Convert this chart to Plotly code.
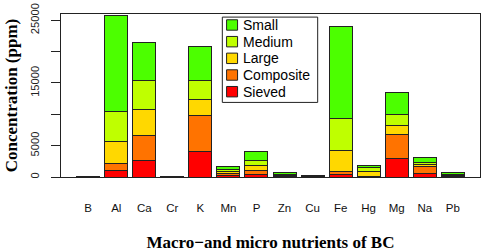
import plotly.graph_objects as go

categories = ["B", "Al", "Ca", "Cr", "K", "Mn", "P", "Zn", "Cu", "Fe", "Hg", "Mg", "Na", "Pb"]
sieved    = [30, 1050, 2700, 10, 4000, 300, 450, 100, 40, 450, 20, 2950, 600, 100]
composite = [30, 1050, 3900, 10, 5800, 300, 550, 80, 40, 500, 20, 3870, 1000, 100]
large     = [30, 3500, 4100, 10, 2500, 300, 800, 80, 40, 3350, 900, 1350, 350, 100]
medium    = [30, 4900, 4700, 10, 3150, 350, 900, 90, 40, 5100, 600, 1850, 400, 100]
small     = [30, 15200, 6000, 10, 5350, 400, 1350, 350, 40, 14550, 350, 3520, 750, 300]
y_ticks = [0, 5000, 10000, 15000, 20000, 25000]
# R drops the overlapping labels 10000 and 20000
y_tick_labels = ["0", "5000", "", "15000", "", "25000"]

series_names = ["Sieved", "Composite", "Large", "Medium", "Small"]
series_values = [sieved, composite, large, medium, small]
series_colors = ["#FF0000", "#FF7300", "#FFD800", "#BFFF00", "#4CFF00"]

fig = go.Figure()
for name, vals, col in zip(series_names, series_values, series_colors):
    fig.add_trace(go.Bar(
        x=categories, y=vals, name=name, width=0.82,
        marker=dict(color=col, line=dict(color="#222222", width=1)),
    ))

# legend box drawn in paper coordinates (R-style compact legend)
lg_x0, lg_x1, lg_y0, lg_y1 = 0.385, 0.6126, 0.4576, 0.981
sw_x0, sw_x1, text_x = 0.3952, 0.4214, 0.4302
row_top, row_step, sw_half = 0.9326, 0.1023, 0.032
shapes = [dict(type="rect", xref="paper", yref="paper",
               x0=lg_x0, x1=lg_x1, y0=lg_y0, y1=lg_y1,
               fillcolor="white", line=dict(color="#222222", width=1))]
annotations = []
legend_order = list(reversed(list(zip(series_names, series_colors))))
for i, (name, col) in enumerate(legend_order):
    yc = row_top - i * row_step
    shapes.append(dict(type="rect", xref="paper", yref="paper",
                       x0=sw_x0, x1=sw_x1, y0=yc - sw_half, y1=yc + sw_half,
                       fillcolor=col, line=dict(color="#222222", width=1)))
    annotations.append(dict(xref="paper", yref="paper", x=text_x, y=yc,
                            xanchor="left", yanchor="middle", showarrow=False,
                            text=name,
                            font=dict(size=14, family="Liberation Sans, Arial, sans-serif",
                                      color="black")))

fig.update_layout(
    width=484, height=252,
    margin=dict(l=61, r=3, t=11, b=69),
    barmode="stack",
    showlegend=False,
    paper_bgcolor="white", plot_bgcolor="white",
    font=dict(family="Liberation Sans, Arial, sans-serif", color="black"),
    shapes=shapes,
    annotations=annotations,
    xaxis=dict(
        range=[-0.97, 13.97], showgrid=False,
        showline=True, mirror=True, linecolor="#222222", linewidth=1,
        ticks="", tickfont=dict(size=11.5, color="#111111"),
        ticklabelstandoff=20,
        title=dict(text="<b>Macro−and micro nutrients of BC</b>",
                   font=dict(family="Liberation Serif, Times New Roman, serif", size=17),
                   standoff=23),
    ),
    yaxis=dict(
        range=[0, 26000], tickvals=y_ticks, ticktext=y_tick_labels,
        showgrid=False, zeroline=False,
        showline=True, mirror=True, linecolor="#222222", linewidth=1,
        ticks="outside", ticklen=9, tickcolor="#222222",
        tickangle=-90, tickfont=dict(size=11.2, color="#222222"),
        ticklabelstandoff=8,
        title=dict(text="<b>Concentration (ppm)</b>",
                   font=dict(family="Liberation Serif, Times New Roman, serif", size=17),
                   standoff=6),
    ),
)

fig.write_html("out.html", config={"displayModeBar": False},
               post_script="document.body.style.margin='0';")
